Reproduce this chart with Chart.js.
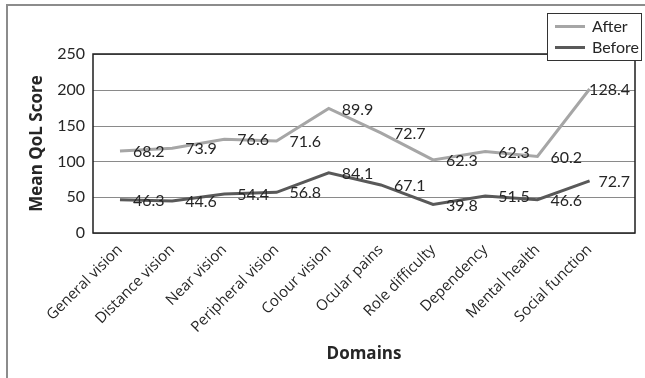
<!DOCTYPE html>
<html>
<head>
<meta charset="utf-8">
<script src="https://cdn.jsdelivr.net/npm/chart.js@4/dist/chart.umd.min.js"></script>
<style>
  html, body { margin: 0; padding: 0; background: #fff; }
  #wrap { width: 645px; height: 378px; position: relative; }
</style>
</head>
<body>
<div id="wrap"><canvas id="c" width="645" height="378"></canvas></div>
<script>
// Quality-of-life domains (x axis)
const domains = ['General vision', 'Distance vision', 'Near vision', 'Peripheral vision',
  'Colour vision', 'Ocular pains', 'Role difficulty', 'Dependency', 'Mental health', 'Social function'];
// Mean QoL scores per domain
const beforeScores = [46.3, 44.6, 54.4, 56.8, 84.1, 67.1, 39.8, 51.5, 46.6, 72.7];
const afterScores = [68.2, 73.9, 76.6, 71.6, 89.9, 72.7, 62.3, 62.3, 60.2, 128.4];
// Y axis ticks
const yTicks = [0, 50, 100, 150, 200, 250];

const FONT = 'Lato, "Open Sans", sans-serif';
const CAT_FONT = '"Open Sans", Lato, sans-serif';
const AFTER_COLOR = '#a6a6a6';
const BEFORE_COLOR = '#595959';

const toPoints = arr => arr.map((v, i) => ({ x: i, y: v }));

// Outer frame, plot frame and grid
const framePlugin = {
  id: 'frames',
  beforeDraw(chart) {
    const ctx = chart.ctx;
    ctx.save();
    ctx.strokeStyle = '#8c8c8c';
    ctx.lineWidth = 2;
    ctx.strokeRect(7, 5, 700, 500);
    ctx.restore();
  },
  beforeDatasetsDraw(chart) {
    const { ctx, chartArea: a, scales } = chart;
    const y = scales.y;
    ctx.save();
    ctx.strokeStyle = '#8a8a8a';
    ctx.lineWidth = 1;
    yTicks.forEach(t => {
      const py = Math.round(y.getPixelForValue(t)) + 0.5;
      ctx.beginPath();
      ctx.moveTo(a.left, py);
      ctx.lineTo(a.right, py);
      ctx.stroke();
    });
    ctx.strokeStyle = '#1e1e1e';
    ctx.lineWidth = 1.5;
    ctx.strokeRect(a.left, a.top, a.right - a.left, a.bottom - a.top);
    ctx.restore();
  }
};

// Value labels to the right of each point, kept inside the plot frame
const valueLabelPlugin = {
  id: 'valueLabels',
  afterDatasetsDraw(chart) {
    const { ctx, chartArea: a } = chart;
    ctx.save();
    ctx.font = '16px ' + FONT;
    ctx.fillStyle = '#262626';
    ctx.textBaseline = 'middle';
    ctx.textAlign = 'left';
    chart.data.datasets.forEach((ds, di) => {
      const meta = chart.getDatasetMeta(di);
      ds.rawValues.forEach((v, i) => {
        const pt = meta.data[i];
        const txt = v.toFixed(1);
        const w = ctx.measureText(txt).width;
        const x = Math.min(pt.x + 13, a.right - 5 - w);
        ctx.fillText(txt, x, pt.y + 1);
      });
    });
    ctx.restore();
  }
};

// Boxed legend at the top right
const legendPlugin = {
  id: 'boxLegend',
  afterDraw(chart) {
    const ctx = chart.ctx;
    ctx.save();
    const bx = 547.5, by = 13.5, bw = 94, bh = 47;
    ctx.fillStyle = '#fff';
    ctx.fillRect(bx, by, bw, bh);
    ctx.strokeStyle = '#333';
    ctx.lineWidth = 1;
    ctx.strokeRect(bx, by, bw, bh);
    ctx.font = '16px ' + FONT;
    ctx.textBaseline = 'middle';
    ctx.textAlign = 'left';
    const rows = [chart.data.datasets[1], chart.data.datasets[0]];
    rows.forEach((ds, i) => {
      const yy = 26.5 + i * 21;
      ctx.strokeStyle = ds.borderColor;
      ctx.lineWidth = 3;
      ctx.beginPath();
      ctx.moveTo(555, yy);
      ctx.lineTo(585, yy);
      ctx.stroke();
      ctx.fillStyle = '#262626';
      ctx.fillText(ds.label, 592, yy);
    });
    ctx.restore();
  }
};

new Chart(document.getElementById('c'), {
  type: 'line',
  data: {
    datasets: [
      {
        label: 'Before',
        data: toPoints(beforeScores),
        rawValues: beforeScores,
        borderColor: BEFORE_COLOR,
        borderWidth: 3,
        pointRadius: 0,
        tension: 0,
        fill: false
      },
      {
        label: 'After',
        data: toPoints(afterScores),
        rawValues: afterScores,
        borderColor: AFTER_COLOR,
        borderWidth: 3,
        pointRadius: 0,
        tension: 0,
        fill: false
      }
    ]
  },
  options: {
    responsive: false,
    animation: false,
    events: [],
    layout: { padding: { left: 18, top: 54, right: 10, bottom: 0 } },
    plugins: { legend: { display: false }, tooltip: { enabled: false } },
    scales: {
      x: {
        type: 'linear',
        min: -0.517,
        max: 9.87,
        afterBuildTicks(scale) {
          scale.ticks = domains.map((_, i) => ({ value: i }));
        },
        afterFit(scale) { scale.height = 145; },
        grid: { display: false, drawTicks: false },
        border: { display: false },
        ticks: {
          autoSkip: false,
          minRotation: 45,
          maxRotation: 45,
          padding: 8,
          color: '#262626',
          font: { family: CAT_FONT, size: 15 },
          callback: v => domains[v] ?? ''
        },
        title: {
          display: true,
          text: 'Domains',
          color: '#262626',
          font: { family: CAT_FONT, size: 17, weight: 'bold' },
          padding: { top: 0, bottom: 14 }
        }
      },
      y: {
        stacked: true,
        min: 0,
        max: 250,
        afterBuildTicks(scale) {
          scale.ticks = yTicks.map(v => ({ value: v }));
        },
        afterFit(scale) { scale.width = 75; },
        grid: { display: false, drawTicks: false },
        border: { display: false },
        ticks: {
          padding: 8,
          color: '#262626',
          font: { family: FONT, size: 16 }
        },
        title: {
          display: true,
          text: 'Mean QoL Score',
          color: '#262626',
          font: { family: CAT_FONT, size: 17, weight: 'bold' },
          padding: { top: 9, bottom: 0 }
        }
      }
    }
  },
  plugins: [framePlugin, valueLabelPlugin, legendPlugin]
});
</script>
</body>
</html>
